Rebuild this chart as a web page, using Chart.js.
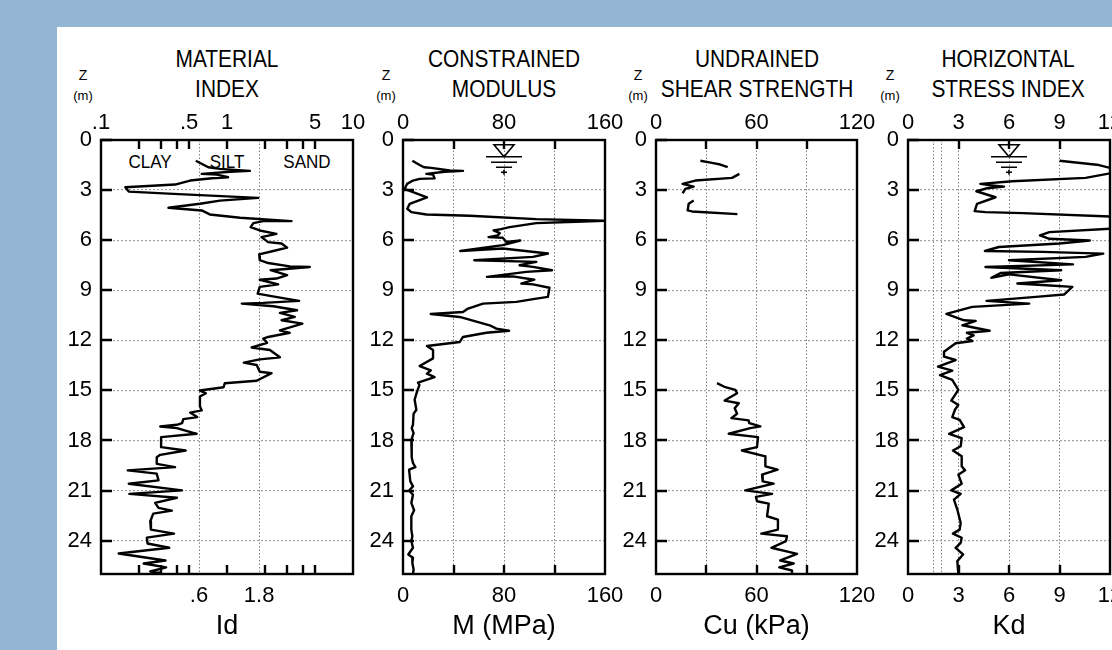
<!DOCTYPE html>
<html lang="en">
  <head>
    <meta charset="utf-8">
    <title>DMT profile</title>
    <script src="https://cdn.jsdelivr.net/npm/chart.js"></script>
    <style>
      html, body { margin: 0; padding: 0; width: 1112px; height: 650px; overflow: hidden; background: #94b6d5; }
      #sheet { position: absolute; left: 57px; top: 27px; width: 1055px; height: 623px; background: #fff; }
      canvas { position: absolute; top: 100px; }
      .txt { position: absolute; color: #000; text-align: center; white-space: nowrap; font-family: "Liberation Sans", sans-serif; }
      .title { width: 300px; font-size: 24px; line-height: 30px; top: 44px; transform: scaleX(0.87); }
      .unit { width: 40px; }
      .soil { width: 80px; top: 151px; font-size: 18.5px; line-height: 22px; transform: scaleX(0.92); }
    </style>
  </head>
  <body>
    <div id="sheet"></div>

    <!--titles-->
    <div class="txt title" style="left: 77px;">MATERIAL<br>INDEX</div>
    <div class="txt title" style="left: 354px;">CONSTRAINED<br>MODULUS</div>
    <div class="txt title" style="left: 607px;">UNDRAINED<br>SHEAR STRENGTH</div>
    <div class="txt title" style="left: 858px;">HORIZONTAL<br>STRESS INDEX</div>

    <!--depth unit over each panel-->
    <div class="txt unit" style="left: 63px; top: 67px; font-size: 14px;">Z</div>
    <div class="txt unit" style="left: 63px; top: 88px; font-size: 13px;">(m)</div>
    <div class="txt unit" style="left: 366px; top: 67px; font-size: 14px;">Z</div>
    <div class="txt unit" style="left: 366px; top: 88px; font-size: 13px;">(m)</div>
    <div class="txt unit" style="left: 618px; top: 67px; font-size: 14px;">Z</div>
    <div class="txt unit" style="left: 618px; top: 88px; font-size: 13px;">(m)</div>
    <div class="txt unit" style="left: 870px; top: 67px; font-size: 14px;">Z</div>
    <div class="txt unit" style="left: 870px; top: 88px; font-size: 13px;">(m)</div>

    <div class="txt soil" style="left: 110px;">CLAY</div>
    <div class="txt soil" style="left: 187px;">SILT</div>
    <div class="txt soil" style="left: 267px;">SAND</div>

    <canvas id="chartId" width="327" height="550" style="left: 56px;"></canvas>
    <canvas id="chartM" width="277" height="550" style="left: 358px;"></canvas>
    <canvas id="chartCu" width="276" height="550" style="left: 611px;"></canvas>
    <canvas id="chartKd" width="277" height="550" style="left: 863px;"></canvas>

    <script>
      // depth (m) and readings
      var idDepth = [1.24,1.63,1.73,1.85,1.9,2.03,2.07,2.23,2.29,2.43,2.67,2.83,3.09,3.23,3.47,3.63,3.82,4.06,4.22,4.46,4.66,4.86,4.86,4.98,5.22,5.42,5.62,5.82,6.12,6.2,6.45,6.65,6.85,7.2,7.37,7.57,7.61,7.8,8.1,8.3,8.37,8.65,8.8,9.2,9.34,9.64,9.76,9.8,9.96,10.2,10.36,10.6,10.8,11,11.4,11.55,11.8,11.9,12.15,12.43,12.58,13.02,13.14,13.34,13.48,13.88,13.97,14.42,14.57,14.81,15.01,15.17,15.37,15.97,16.2,16.33,16.6,16.72,16.96,17.06,17.16,17.26,17.6,17.8,18.4,18.6,18.86,19,19.4,19.6,19.79,19.99,20.39,20.59,20.99,21.2,21.43,21.74,22.04,22.2,22.38,22.84,23.34,23.58,23.82,24.17,24.43,24.77,25.19,25.37,25.6,25.85,25.92];
      var idValues = [.565,.711,.88,1.52,1.06,.63,.83,1.02,.76,.51,.387,.156,.166,.376,1.77,.88,.61,.343,.63,.73,1.27,3.25,1.94,1.62,1.54,1.82,2.47,1.88,2.12,2.71,3.0,2.33,1.8,1.82,2.12,3.15,4.54,2.22,3.0,2.47,1.82,2.55,1.82,1.75,2.19,3.74,1.94,1.31,2.33,3.6,2.63,3.45,2.71,3.97,2.63,3.15,2.12,1.94,2.08,1.57,2.19,2.63,1.82,1.36,1.72,1.82,2.26,1.72,.96,.94,.61,.68,.61,.61,.63,.51,.58,.45,.44,.4,.295,.4,.575,.3,.3,.47,.295,.277,.277,.387,.163,.277,.286,.166,.44,.168,.4,.269,.286,.365,.26,.246,.249,.38,.231,.234,.348,.138,.325,.218,.329,.246,.295];

      var mDepth = [1.24,1.5,1.63,1.67,1.83,1.85,1.9,2.03,2.07,2.3,2.33,2.43,2.63,2.93,3.07,3.43,3.82,4.12,4.32,4.46,4.54,4.74,4.84,4.9,4.98,5.22,5.34,5.42,5.58,5.72,5.82,5.86,6.1,6.02,6.3,6.65,6.5,6.8,7.0,7.2,7.3,7.5,7.6,7.8,7.9,8.2,8.17,8.37,8.6,8.65,8.85,9.4,9.5,9.7,9.8,10.1,10.3,10.42,10.6,11.1,11.3,11.43,11.55,11.8,12.1,12.34,12.58,13.08,13.54,13.8,14,14.2,14.53,14.67,15.2,15.56,16.16,16.4,17.06,17.26,17.56,17.96,19,19.35,19.6,19.75,20.45,20.75,21,21.25,21.74,22.18,22.54,23.34,23.74,24.03,24.43,24.83,25.03,25.33,25.73,26];
      var mValues = [7.4,13.2,16.6,22.4,37,47.5,33,18.5,23.8,25,13.2,7.9,3.2,1.3,5.8,19,5.3,3.4,6.6,18.5,52.8,105.6,160,137,105.6,84.5,77.6,71.8,76.6,75,67.8,79,81.8,92.9,79,45.4,79,114.8,103,56.5,105.6,92.4,103,118,97.7,66.5,87,104,93.7,103,116,114.8,105.6,89.8,63.4,51.5,47.5,22,44.9,68.6,74,84,66,47.5,45,19,23.8,23.8,13.2,22,19,25,11.9,13,10.6,9.2,10.6,8.4,7.9,6.9,8.4,6.6,6.9,7.9,9.8,4.8,5.8,7.9,4.8,7.9,6.6,8.8,6.6,6.6,7.4,6.6,7.9,4.2,7.9,7.4,8.4,7.9];

      var cuDepth = [1.24,1.37,1.47,1.63,null,2.03,2.27,2.43,2.63,2.79,2.93,3.19,null,3.63,3.82,4.22,4.28,4.44,null,14.57,14.81,14.97,15.17,15.61,15.77,16.07,16.4,16.66,16.8,16.96,17.16,17.26,17.6,17.8,18.4,18.6,18.95,19.55,19.75,20.05,20.45,20.59,20.99,21.2,21.38,21.64,21.78,22.54,22.74,23.34,23.58,23.74,24.03,24.43,24.79,25.19,25.37,25.6,25.79,26];
      var cuValues = [26.5,33.4,38.4,42.8,null,49.8,45.4,23.5,15.9,22.5,17.5,15.9,null,22.5,19.5,18.9,21.5,48.6,null,36.4,41.4,47.4,48.4,41,49.4,47,48.4,45,55.3,55.7,62.3,56.3,43.4,60.9,60.3,51.3,65.3,65.3,72.6,63.3,63.7,70.2,53.3,69.3,59.7,60.3,67.3,66.3,72.8,72.8,62.9,78.2,77.6,68.9,84.2,74.2,82.2,73.6,81.2,81.2];

      var kdDepth = [1.24,1.5,1.67,1.85,2.0,2.27,2.47,2.63,2.73,2.79,2.89,3.07,3.43,3.82,4.26,4.32,4.38,4.58,4.85,5.32,5.52,5.72,5.92,6.02,6.2,6.41,6.65,6.7,6.81,7.0,7.2,7.45,7.61,7.8,7.97,8.25,8.05,8.4,8.6,8.7,8.8,9.26,9.4,9.64,9.8,10.0,10.42,10.8,10.84,11.1,11.43,11.55,11.7,11.9,12.04,12.18,12.68,12.98,13.18,13.58,13.82,14.08,14.37,14.97,15.61,15.87,16.16,16.6,16.76,17.2,17.6,17.86,18.35,18.6,18.95,19.55,19.79,20.05,20.59,20.99,21.2,21.54,22.14,22.94,23.34,23.58,23.83,24.13,24.43,24.83,25.23,26];
      var kdValues = [9,11.35,12,13,12,10.55,6.2,4.3,5,5.7,4.7,4.06,5.2,4.1,3.96,4.6,6.8,12,14,12,8.4,7.84,8.4,10.8,9,5.4,4.57,8,11.6,10.55,6,9.8,4.6,9.1,5.5,4.95,6,9.1,6.5,8.2,9.76,9.27,7.6,4.67,7.2,3.82,2.28,3.33,4.02,3.23,4.85,3.5,3.9,3.5,3.82,2.83,2.14,2.14,2.83,1.78,2.63,1.9,2.63,2.99,2.57,2.99,2.79,2.63,3.07,3.33,2.44,3.19,3.13,2.67,3.19,3.19,3.39,2.99,3.19,2.57,3.13,2.73,2.93,3.13,3.07,2.67,3.19,3.13,2.83,3.27,2.93,2.99];

      var depthTicks = 3;
      var depthMax = 26;
      var waterDepth = 1.0;

      var fontFace = '"Liberation Sans", sans-serif';

      // frame, inward tick marks and the water table sign
      var panelMarks = {
        id: 'panelMarks',
        afterDatasetsDraw: function(chart, args, opts) {
          var c = chart.ctx, a = chart.chartArea, x = chart.scales.x, y = chart.scales.y;
          c.save();
          c.strokeStyle = '#000';
          c.lineWidth = 2.4;
          c.beginPath();
          opts.marks.forEach(function(v) {
            var px = Math.round(x.getPixelForValue(v));
            c.moveTo(px, a.top); c.lineTo(px, a.top + 9);
            c.moveTo(px, a.bottom); c.lineTo(px, a.bottom - 9);
          });
          y.ticks.forEach(function(t) {
            var py = Math.round(y.getPixelForValue(t.value));
            c.moveTo(a.left, py); c.lineTo(a.left + 11, py);
          });
          c.stroke();
          c.strokeRect(a.left, a.top, a.right - a.left, a.bottom - a.top);
          if (opts.water !== undefined) {
            var wx = x.getPixelForValue(opts.water), wy = y.getPixelForValue(waterDepth);
            c.lineWidth = 1.6;
            c.beginPath();
            c.moveTo(wx - 10, wy - 12); c.lineTo(wx + 10, wy - 12); c.lineTo(wx, wy); c.closePath();
            c.moveTo(wx - 18, wy); c.lineTo(wx + 18, wy);
            c.moveTo(wx - 13, wy + 5.5); c.lineTo(wx + 13, wy + 5.5);
            c.moveTo(wx - 8, wy + 10.5); c.lineTo(wx + 8, wy + 10.5);
            c.moveTo(wx - 3, wy + 15.5); c.lineTo(wx + 3, wy + 15.5);
            c.moveTo(wx, wy + 13); c.lineTo(wx, wy + 18);
            c.stroke();
          }
          c.restore();
        }
      };

      function makePanel(id, conf) {
        var labelOf = function(list, names) {
          return function(v) {
            var i = list.indexOf(v);
            return i < 0 ? '' : names[i];
          };
        };
        var setTicks = function(list) {
          return function(scale) {
            scale.ticks = list.map(function(v) { return { value: v }; });
          };
        };
        var tickFont = { family: fontFace, size: 22 };
        var points = conf.values.map(function(v, i) { return { x: v, y: conf.depth[i] }; });
        return new Chart(document.getElementById(id), {
          type: 'scatter',
          data: { datasets: [{
            data: points,
            showLine: true,
            borderColor: '#000',
            borderWidth: 2.4,
            borderJoinStyle: 'round',
            pointRadius: 0,
            tension: 0
          }] },
          plugins: [panelMarks],
          options: {
            responsive: false,
            animation: false,
            events: [],
            layout: { padding: { left: 0, top: 0, bottom: 0, right: 30 } },
            plugins: {
              legend: { display: false },
              tooltip: { enabled: false },
              panelMarks: { marks: conf.marks, water: conf.water }
            },
            scales: {
              x: {
                type: conf.type,
                min: conf.min,
                max: conf.max,
                position: 'bottom',
                afterBuildTicks: setTicks(conf.grid.concat(conf.bottomTicks.filter(function(v) { return conf.grid.indexOf(v) < 0; }))),
                afterFit: function(s) { s.height = 76; },
                grid: {
                  drawTicks: false,
                  color: '#808080',
                  lineWidth: 1
                },
                border: { display: false, dash: [1.5, 2] },
                ticks: {
                  autoSkip: false,
                  maxRotation: 0,
                  padding: 9,
                  color: '#000',
                  font: tickFont,
                  callback: labelOf(conf.bottomTicks, conf.bottomLabels)
                },
                title: {
                  display: true,
                  text: conf.axisTitle,
                  color: '#000',
                  font: { family: fontFace, size: 27 },
                  padding: { top: 0, bottom: 7 }
                }
              },
              x2: {
                type: conf.type,
                axis: 'x',
                display: true,
                min: conf.min,
                max: conf.max,
                position: 'top',
                afterBuildTicks: setTicks(conf.topTicks),
                afterFit: function(s) { s.height = 40; },
                grid: { display: false, drawTicks: false },
                border: { display: false },
                ticks: {
                  autoSkip: false,
                  maxRotation: 0,
                  padding: 4,
                  color: '#000',
                  font: tickFont,
                  callback: labelOf(conf.topTicks, conf.topLabels)
                }
              },
              y: {
                reverse: true,
                min: 0,
                max: depthMax,
                afterFit: function(s) { s.width = 45; },
                grid: {
                  drawTicks: false,
                  color: '#a0a0a0',
                  lineWidth: 1.2
                },
                border: { display: false, dash: [2, 2] },
                ticks: {
                  stepSize: depthTicks,
                  includeBounds: false,
                  padding: 9,
                  color: '#000',
                  font: tickFont
                }
              }
            }
          }
        });
      }

      makePanel('chartId', {
        depth: idDepth, values: idValues, type: 'logarithmic', min: 0.1, max: 10,
        grid: [0.6, 1.8], marks: [0.2, 0.3, 0.4, 0.5, 1, 2, 3, 4, 5],
        topTicks: [0.1, 0.5, 1, 5, 10], topLabels: ['.1', '.5', '1', '5', '10'],
        bottomTicks: [0.6, 1.8], bottomLabels: ['.6', '1.8'],
        axisTitle: 'Id'
      });
      makePanel('chartM', {
        depth: mDepth, values: mValues, type: 'linear', min: 0, max: 160,
        grid: [40, 80, 120], marks: [40, 80, 120], water: 80,
        topTicks: [0, 80, 160], topLabels: ['0', '80', '160'],
        bottomTicks: [0, 80, 160], bottomLabels: ['0', '80', '160'],
        axisTitle: 'M (MPa)'
      });
      makePanel('chartCu', {
        depth: cuDepth, values: cuValues, type: 'linear', min: 0, max: 120,
        grid: [30, 60, 90], marks: [30, 60, 90],
        topTicks: [0, 60, 120], topLabels: ['0', '60', '120'],
        bottomTicks: [0, 60, 120], bottomLabels: ['0', '60', '120'],
        axisTitle: 'Cu (kPa)'
      });
      makePanel('chartKd', {
        depth: kdDepth, values: kdValues, type: 'linear', min: 0, max: 12,
        grid: [1.5, 2, 3, 6, 9], marks: [3, 6, 9], water: 6,
        topTicks: [0, 3, 6, 9, 12], topLabels: ['0', '3', '6', '9', '12'],
        bottomTicks: [0, 3, 6, 9, 12], bottomLabels: ['0', '3', '6', '9', '12'],
        axisTitle: 'Kd'
      });
    </script>
  </body>
</html>
